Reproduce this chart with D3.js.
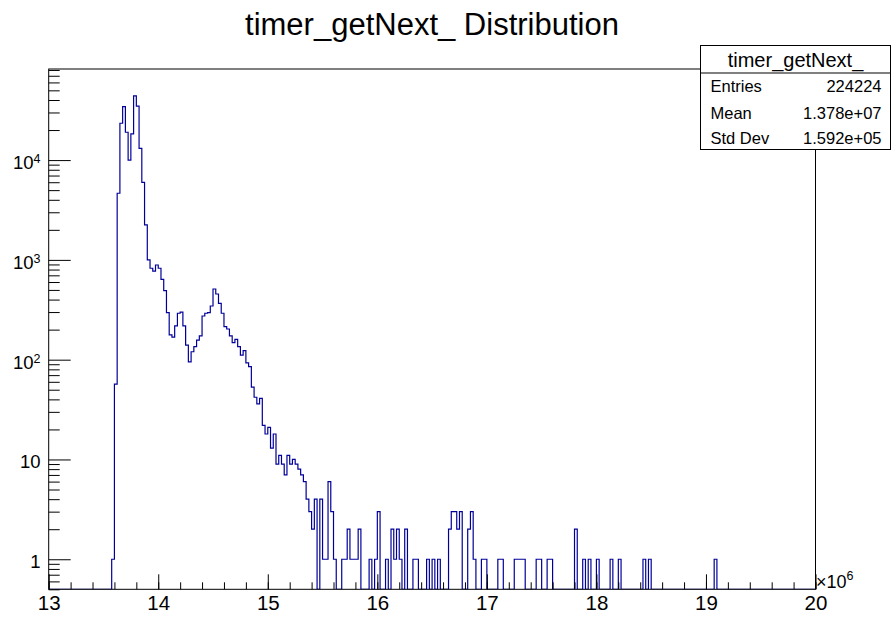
<!DOCTYPE html>
<html>
<head>
<meta charset="utf-8">
<script src="https://cdn.jsdelivr.net/npm/d3@7"></script>
<style>
body{margin:0;background:#fff;}
text{font-family:"Liberation Sans",Arial,sans-serif;fill:#000;}
</style>
</head>
<body>
<div id="chart-area"></div>
<script>
// histogram settings (x in units of 10^6)
var histTitle = "timer_getNext_ Distribution";
var xRange = [13, 20];
var binWidth = 0.025;
var xMajorTicks = [13, 14, 15, 16, 17, 18, 19, 20];
var xTickLabels = ["13", "14", "15", "16", "17", "18", "19", "20"];
var yMajorTicks = [1, 10, 100, 1000, 10000];
var yTickBases = ["1", "10", "10", "10", "10"];
var yTickExps = ["", "", "2", "3", "4"];
var statsName = "timer_getNext_";
var statsLabels = ["Entries", "Mean", "Std Dev"];
var statsValues = ["224224", "1.378e+07", "1.592e+05"];

// bin contents, 280 bins from 13 to 20 (x10^6)
var counts = [
  0,0,0,0,0,0,0,0,0,0,0,0,0,0,0,0,0,0,0,0,
  0,0,0,1,57,4650,23400,34300,19000,10000,18300,43900,34800,13100,5990,2240,998,824,770,889,
  824,639,492,296,177,168,218,292,300,218,140,95,120,135,157,173,274,292,296,345,
  511,455,367,292,214,203,173,148,160,135,111,123,93,85,53,42,36,41,22,18,
  21,13,18,9,11,9,7,11,9,10,9,8,7,6,4,3,2,4,0,4,
  1,1,6,3,1,0,0,1,1,2,1,1,1,2,0,0,0,1,0,1,
  3,0,0,1,0,2,1,2,1,0,2,0,0,1,1,0,0,0,1,0,
  1,0,1,0,0,0,2,3,3,2,3,0,0,2,3,1,0,0,1,1,
  0,0,0,0,1,1,0,0,0,0,1,1,1,1,0,0,0,0,1,1,
  0,0,1,1,0,0,0,0,0,0,0,0,2,0,0,1,0,1,0,0,
  1,0,0,0,0,1,0,0,1,0,0,0,0,0,0,0,0,1,0,1,
  0,0,0,0,0,0,0,0,0,0,0,0,0,0,0,0,0,0,0,0,
  0,0,0,1,0,0,0,0,0,0,0,0,0,0,0,0,0,0,0,0,
  0,0,0,0,0,0,0,0,0,0,0,0,0,0,0,0,0,0,0,0
];

var width = 892, height = 617;
var frame = {left: 48.7, right: 815.5, top: 69, bottom: 589.3};

var svg = d3.select("#chart-area").append("svg")
    .attr("width", width)
    .attr("height", height);

var x = d3.scaleLinear()
    .domain(xRange)
    .range([frame.left, frame.right]);

var y = d3.scaleLog()
    .domain([0.5, 81800])
    .range([frame.bottom, frame.top]);

// title
svg.append("text")
    .attr("x", 432)
    .attr("y", 35)
    .attr("text-anchor", "middle")
    .attr("font-size", "31px")
    .text(histTitle);

// histogram outline
var pts = counts.map((c, i) => [x(xRange[0] + i * binWidth), c > 0 ? y(c) : frame.bottom]);
pts.push([x(xRange[0] + counts.length * binWidth), pts[pts.length - 1][1]]);

svg.append("defs").append("clipPath").attr("id", "clip")
    .append("rect")
    .attr("x", frame.left).attr("y", frame.top)
    .attr("width", frame.right - frame.left)
    .attr("height", frame.bottom - frame.top);

svg.append("path")
    .attr("clip-path", "url(#clip)")
    .attr("d", d3.line().curve(d3.curveStepAfter)(pts))
    .attr("fill", "none")
    .attr("stroke", "#000099")
    .attr("stroke-width", 1.2);

// x axis: ticks point into the frame
var xMinor = d3.range(0, 36).map(i => xRange[0] + i * 0.2);
svg.append("g")
    .attr("transform", "translate(0," + frame.bottom + ")")
    .call(d3.axisBottom(x).tickValues(xMinor).tickSize(-7).tickSizeOuter(0).tickFormat(""));
var xAxis = svg.append("g")
    .attr("transform", "translate(0," + frame.bottom + ")")
    .call(d3.axisBottom(x).tickValues(xMajorTicks).tickSize(-15).tickSizeOuter(0)
        .tickPadding(6).tickFormat((d, i) => xTickLabels[i]));
xAxis.selectAll("text").attr("font-size", "20.5px").attr("font-family", null);

// y axis: major and minor log ticks
var yMinor = [];
[0.1, 1, 10, 100, 1000, 10000].forEach(dec => {
  for (var k = 2; k <= 9; k++) {
    var v = dec * k;
    if (v >= 0.5 && v <= 81800) yMinor.push(v);
  }
});
svg.append("g")
    .attr("transform", "translate(" + frame.left + ",0)")
    .call(d3.axisLeft(y).tickValues(yMinor).tickSize(-11).tickSizeOuter(0).tickFormat(""));
svg.append("g")
    .attr("transform", "translate(" + frame.left + ",0)")
    .call(d3.axisLeft(y).tickValues(yMajorTicks).tickSize(-22).tickSizeOuter(0).tickFormat(""));

svg.selectAll(".tick line").attr("stroke", "#000");
svg.selectAll(".domain").remove();

var yLab = svg.selectAll(".ylab")
    .data(yMajorTicks)
    .enter().append("text")
    .attr("class", "ylab")
    .attr("x", 40.5)
    .attr("y", d => y(d) + 9)
    .attr("text-anchor", "end")
    .attr("font-size", "18.5px");
yLab.append("tspan").text((d, i) => yTickBases[i]);
yLab.append("tspan")
    .attr("font-size", "12.5px")
    .attr("dy", -6)
    .text((d, i) => yTickExps[i]);

// x10^6 exponent label
var expLab = svg.append("text")
    .attr("x", 816)
    .attr("y", 588)
    .attr("font-size", "18px");
expLab.append("tspan").text("\u00d710");
expLab.append("tspan").attr("font-size", "12.5px").attr("dy", -8).text("6");

// frame
svg.append("rect")
    .attr("x", frame.left).attr("y", frame.top)
    .attr("width", frame.right - frame.left)
    .attr("height", frame.bottom - frame.top)
    .attr("fill", "none")
    .attr("stroke", "#000")
    .attr("stroke-width", 1);

// stats box
var box = {x: 700.5, y: 45.5, w: 190, h: 104, sep: 73};
svg.append("rect")
    .attr("x", box.x).attr("y", box.y)
    .attr("width", box.w).attr("height", box.h)
    .attr("fill", "#fff").attr("stroke", "#000");
svg.append("line")
    .attr("x1", box.x).attr("x2", box.x + box.w)
    .attr("y1", box.sep).attr("y2", box.sep)
    .attr("stroke", "#000");
svg.append("text")
    .attr("x", box.x + box.w / 2)
    .attr("y", 67)
    .attr("text-anchor", "middle")
    .attr("font-size", "20px")
    .text(statsName);
var rowY = [92.3, 118.5, 144.2];
svg.selectAll(".slab").data(statsLabels).enter().append("text")
    .attr("x", 710.5).attr("y", (d, i) => rowY[i])
    .attr("font-size", "16.5px")
    .text(d => d);
svg.selectAll(".sval").data(statsValues).enter().append("text")
    .attr("x", 881.5).attr("y", (d, i) => rowY[i])
    .attr("text-anchor", "end")
    .attr("font-size", "16.5px")
    .text(d => d);
</script>
</body>
</html>
